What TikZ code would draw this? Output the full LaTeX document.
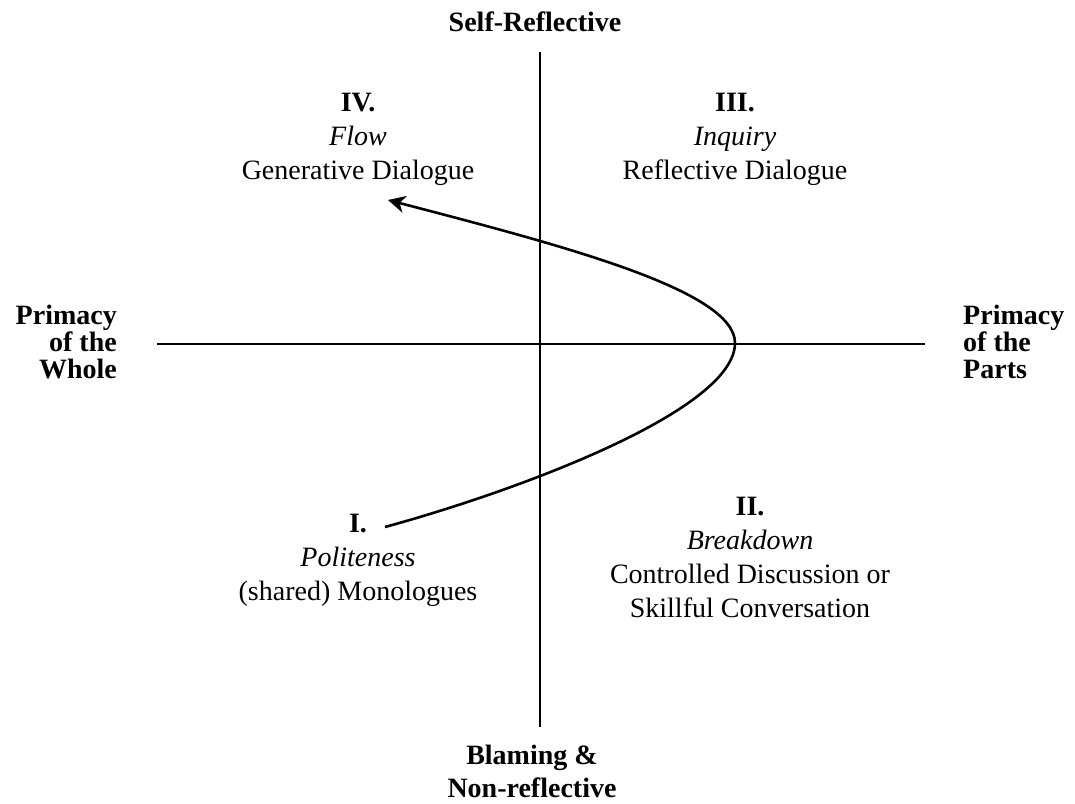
\documentclass[tikz,border=0pt]{standalone}
\usepackage{fontspec}
\setmainfont{Liberation Serif}
\usetikzlibrary{arrows.meta}
\tikzset{
  axisline/.style={line width=2pt},
  pathcurve/.style={line width=2.6pt,-{Stealth[length=17pt,width=17pt,inset=5pt]}},
  quad/.style={align=center,inner sep=0pt,anchor=north,font=\fontsize{28}{34}\selectfont},
  pole/.style={inner sep=0pt,font=\fontsize{28}{33}\selectfont\bfseries},
  side/.style={inner sep=0pt,font=\fontsize{28}{27}\selectfont\bfseries},
}
\begin{document}
\begin{tikzpicture}[x=1pt,y=-1pt]
\useasboundingbox (0,0) rectangle (1075,803);
% axes
\coordinate (vt) at (540,52);
\coordinate (vb) at (540,727);
\coordinate (hl) at (157,344);
\coordinate (hr) at (925,344);
\draw[axisline] (vt) -- (vb);
\draw[axisline] (hl) -- (hr);
% pole labels
\node[pole,anchor=south] (self) at (535,32) {Self-Reflective};
\node[pole,anchor=north,align=center] (blame) at (532,745) {Blaming \&\\Non-reflective};
\node[side,anchor=north east,align=right] (whole) at (117,305) {Primacy\\of the\\Whole};
\node[side,anchor=north west,align=left] (parts) at (963,305) {Primacy\\of the\\Parts};
% quadrants
\node[quad] (q4) at (358,93) {\textbf{IV.}\\\textit{Flow}\\Generative Dialogue};
\node[quad] (q3) at (735,93) {\textbf{III.}\\\textit{Inquiry}\\Reflective Dialogue};
\node[quad] (q1) at (358,514) {\textbf{I.}\\\textit{Politeness}\\(shared) Monologues};
\node[quad] (q2) at (750,497) {\textbf{II.}\\\textit{Breakdown}\\Controlled Discussion or\\Skillful Conversation};
% curve
\coordinate (cs) at (385,527);
\coordinate (cr) at (735,343);
\coordinate (ce) at (388,200);
\draw[pathcurve] (cs) .. controls (520,490) and (735,410) .. (cr)
  .. controls (735,290) and (560,245) .. (ce);
\end{tikzpicture}
\end{document}
